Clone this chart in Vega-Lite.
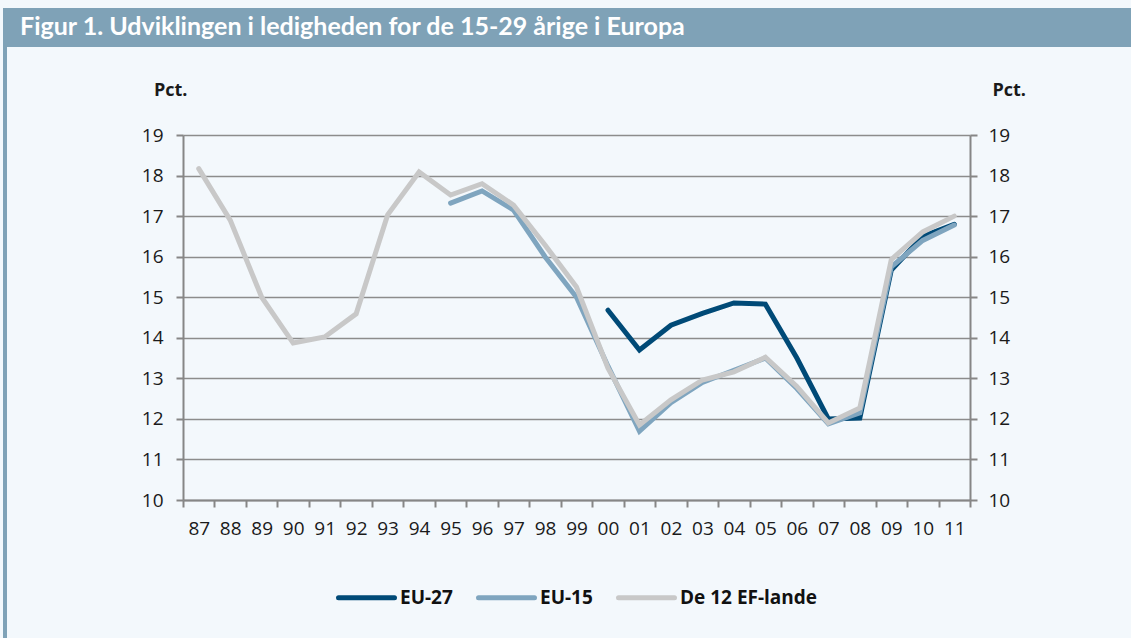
{
  "$schema": "https://vega.github.io/schema/vega-lite/v6.json",
  "background": "#f3f8fc",
  "padding": {"left": 3, "top": 8, "right": 0, "bottom": 0},
  "config": {"view": {"stroke": null}, "font": "Open Sans", "legend": {"layout": {"bottom": {"anchor": "middle"}}}},
  "datasets": {
    "series": [
      {"year": "00", "series": "EU-27", "value": 14.68},
      {"year": "01", "series": "EU-27", "value": 13.7},
      {"year": "02", "series": "EU-27", "value": 14.31},
      {"year": "03", "series": "EU-27", "value": 14.6},
      {"year": "04", "series": "EU-27", "value": 14.86},
      {"year": "05", "series": "EU-27", "value": 14.83},
      {"year": "06", "series": "EU-27", "value": 13.5},
      {"year": "07", "series": "EU-27", "value": 12.0},
      {"year": "08", "series": "EU-27", "value": 12.02},
      {"year": "09", "series": "EU-27", "value": 15.67},
      {"year": "10", "series": "EU-27", "value": 16.5},
      {"year": "11", "series": "EU-27", "value": 16.8},
      {"year": "95", "series": "EU-15", "value": 17.32},
      {"year": "96", "series": "EU-15", "value": 17.62},
      {"year": "97", "series": "EU-15", "value": 17.15},
      {"year": "98", "series": "EU-15", "value": 16.0},
      {"year": "99", "series": "EU-15", "value": 15.0},
      {"year": "00", "series": "EU-15", "value": 13.3},
      {"year": "01", "series": "EU-15", "value": 11.7},
      {"year": "02", "series": "EU-15", "value": 12.4},
      {"year": "03", "series": "EU-15", "value": 12.9},
      {"year": "04", "series": "EU-15", "value": 13.2},
      {"year": "05", "series": "EU-15", "value": 13.5},
      {"year": "06", "series": "EU-15", "value": 12.75},
      {"year": "07", "series": "EU-15", "value": 11.88},
      {"year": "08", "series": "EU-15", "value": 12.15},
      {"year": "09", "series": "EU-15", "value": 15.75},
      {"year": "10", "series": "EU-15", "value": 16.4},
      {"year": "11", "series": "EU-15", "value": 16.78},
      {"year": "87", "series": "De 12 EF-lande", "value": 18.17},
      {"year": "88", "series": "De 12 EF-lande", "value": 16.9},
      {"year": "89", "series": "De 12 EF-lande", "value": 15.0},
      {"year": "90", "series": "De 12 EF-lande", "value": 13.87},
      {"year": "91", "series": "De 12 EF-lande", "value": 14.02},
      {"year": "92", "series": "De 12 EF-lande", "value": 14.59},
      {"year": "93", "series": "De 12 EF-lande", "value": 17.03},
      {"year": "94", "series": "De 12 EF-lande", "value": 18.09},
      {"year": "95", "series": "De 12 EF-lande", "value": 17.52},
      {"year": "96", "series": "De 12 EF-lande", "value": 17.8},
      {"year": "97", "series": "De 12 EF-lande", "value": 17.27},
      {"year": "98", "series": "De 12 EF-lande", "value": 16.29},
      {"year": "99", "series": "De 12 EF-lande", "value": 15.25},
      {"year": "00", "series": "De 12 EF-lande", "value": 13.25},
      {"year": "01", "series": "De 12 EF-lande", "value": 11.85},
      {"year": "02", "series": "De 12 EF-lande", "value": 12.47},
      {"year": "03", "series": "De 12 EF-lande", "value": 12.96},
      {"year": "04", "series": "De 12 EF-lande", "value": 13.16},
      {"year": "05", "series": "De 12 EF-lande", "value": 13.52},
      {"year": "06", "series": "De 12 EF-lande", "value": 12.8},
      {"year": "07", "series": "De 12 EF-lande", "value": 11.9},
      {"year": "08", "series": "De 12 EF-lande", "value": 12.27},
      {"year": "09", "series": "De 12 EF-lande", "value": 15.93},
      {"year": "10", "series": "De 12 EF-lande", "value": 16.61},
      {"year": "11", "series": "De 12 EF-lande", "value": 17.0}
    ]
  },
  "spacing": 0,
  "resolve": {"scale": {"color": "independent"}, "legend": {"color": "independent"}},
  "hconcat": [
    {
      "width": 4,
      "height": 630,
      "data": {"values": [{"part": "stripe"}]},
      "mark": {"type": "rect", "color": "#7fa2b7"}
    },
    {
      "spacing": 34,
      "resolve": {"scale": {"color": "independent"}, "legend": {"color": "independent"}},
      "vconcat": [
        {
          "width": 1124,
          "height": 39,
          "data": {"values": [{"pos": 0, "label": "Figur 1. Udviklingen i ledigheden for de 15-29 årige i Europa"}]},
          "layer": [
            {"mark": {"type": "rect", "color": "#7fa2b7"}},
            {
              "mark": {"type": "text", "align": "left", "baseline": "middle", "dx": 13, "dy": -1, "color": "white", "font": "Lato", "fontSize": 25, "fontWeight": "bold"},
              "encoding": {
                "text": {"field": "label"},
                "x": {"field": "pos", "type": "quantitative", "scale": {"domain": [0, 1]}, "axis": null}
              }
            }
          ]
        },
        {
          "spacing": 0,
          "resolve": {"scale": {"color": "independent"}, "legend": {"color": "independent"}},
          "hconcat": [
            {
              "width": 134,
              "height": 10,
              "data": {"values": []},
              "mark": "rect"
            },
            {
              "width": 787,
              "height": 365,
              "data": {"name": "series"},
              "layer": [
                {
                  "mark": {"type": "line", "strokeWidth": 5, "strokeCap": "round"},
                  "encoding": {
                    "x": {
                      "field": "year",
                      "type": "ordinal",
                      "scale": {
                        "type": "band",
                        "domain": ["87","88","89","90","91","92","93","94","95","96","97","98","99","00","01","02","03","04","05","06","07","08","09","10","11"],
                        "paddingInner": 0,
                        "paddingOuter": 0
                      },
                      "axis": {
                        "title": null,
                        "tickBand": "extent",
                        "labelAngle": 0,
                        "labelFontSize": 19,
                        "labelColor": "#1a1a1a",
                        "labelPadding": 12,
                        "tickSize": 7,
                        "tickColor": "#868686",
                        "tickWidth": 2,
                        "domainColor": "#868686",
                        "domainWidth": 2,
                        "grid": false
                      }
                    },
                    "y": {
                      "field": "value",
                      "type": "quantitative",
                      "scale": {"domain": [10, 19], "nice": false, "zero": false},
                      "axis": {
                        "orient": "left",
                        "title": "Pct.",
                        "values": [10, 11, 12, 13, 14, 15, 16, 17, 18, 19],
                        "grid": true,
                        "gridColor": "#8c8c8c",
                        "gridWidth": 1.5,
                        "domainColor": "#868686",
                        "domainWidth": 2,
                        "tickColor": "#868686",
                        "tickWidth": 2,
                        "tickSize": 7,
                        "labelFontSize": 19,
                        "labelPadding": 13,
                        "labelColor": "#1a1a1a",
                        "titleAngle": 0,
                        "titleAlign": "right",
                        "titleX": 4,
                        "titleY": -40,
                        "titleBaseline": "alphabetic",
                        "titleFontSize": 18,
                        "titleFontWeight": "bold",
                        "titleColor": "#1a1a1a"
                      }
                    },
                    "color": {
                      "field": "series",
                      "type": "nominal",
                      "scale": {
                        "domain": ["EU-27", "EU-15", "De 12 EF-lande"],
                        "range": ["#004a77", "#7fa5bf", "#c8c8c8"]
                      },
                      "legend": {
                        "title": null,
                        "orient": "bottom",
                        "direction": "horizontal",
                        "offset": 29,
                        "symbolType": "stroke",
                        "symbolSize": 3136,
                        "symbolStrokeWidth": 5,
                        "labelFontSize": 19,
                        "labelFontWeight": "bold",
                        "labelColor": "#111111",
                        "labelOffset": 3,
                        "columnPadding": 15,
                        "encode": {"symbols": {"update": {"strokeCap": {"value": "round"}}}}
                      }
                    }
                  }
                },
                {
                  "mark": {"type": "line", "opacity": 0},
                  "encoding": {
                    "x": {"field": "year", "type": "ordinal"},
                    "y": {
                      "field": "value",
                      "type": "quantitative",
                      "scale": {"domain": [10, 19], "nice": false, "zero": false},
                      "axis": {
                        "orient": "right",
                        "title": "Pct.",
                        "values": [10, 11, 12, 13, 14, 15, 16, 17, 18, 19],
                        "grid": false,
                        "domainColor": "#868686",
                        "domainWidth": 2,
                        "tickColor": "#868686",
                        "tickWidth": 2,
                        "tickSize": 7,
                        "labelFontSize": 19,
                        "labelPadding": 11,
                        "labelColor": "#1a1a1a",
                        "titleAngle": 0,
                        "titleAlign": "left",
                        "titleX": 22,
                        "titleY": -40,
                        "titleBaseline": "alphabetic",
                        "titleFontSize": 18,
                        "titleFontWeight": "bold",
                        "titleColor": "#1a1a1a"
                      }
                    },
                    "detail": {"field": "series"}
                  }
                }
              ],
              "resolve": {"scale": {"y": "independent"}, "axis": {"y": "independent"}}
            }
          ]
        }
      ]
    }
  ]
}
